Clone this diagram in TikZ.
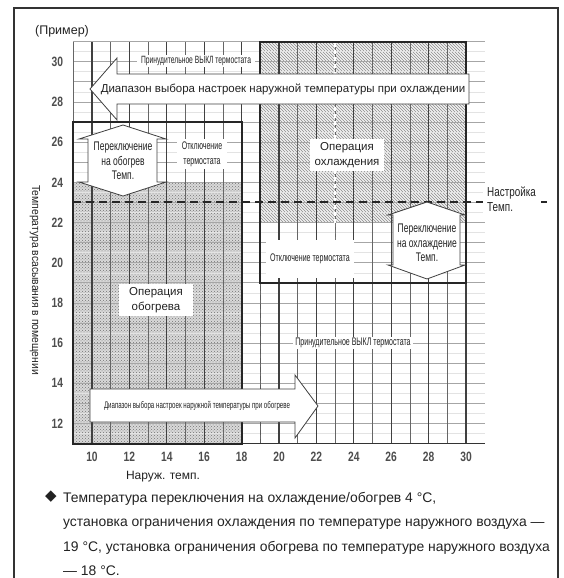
\documentclass[tikz,border=0pt]{standalone}
\usepackage{fontspec}
\setmainfont{Liberation Sans}
\newfontfamily\nfA[FakeStretch=0.76]{Liberation Sans}
\newfontfamily\nfS[FakeStretch=0.68]{Liberation Sans}
\newfontfamily\nfB[FakeStretch=0.64]{Liberation Sans}
\newfontfamily\nfC[FakeStretch=0.9]{Liberation Sans}
\newfontfamily\symfont{DejaVu Sans}
\usetikzlibrary{patterns}
\definecolor{ink}{HTML}{222222}
\definecolor{tickc}{HTML}{4d4d4d}
\begin{document}
\begin{tikzpicture}[x=1pt,y=-1pt,
  wbox/.style={fill=white, inner sep=2pt, align=center, text=ink},
  arrowshape/.style={fill=white, draw=black!75, line width=0.8pt, line join=miter},
  hline/.style={draw=gray!70, line width=0.8pt},
  hminor/.style={draw=gray!22, line width=0.5pt},
  vodd/.style={draw=black!60, line width=0.8pt},
  veven/.style={draw=black!75, line width=1.1pt},
  bord/.style={draw=black!85, line width=2pt},
  setline/.style={draw=black!85, line width=2pt, dash pattern=on 8pt off 5pt},
  ytick/.style={anchor=east, text=tickc, font=\nfA\bfseries\fontsize{13.5}{15}\selectfont, inner sep=0pt, xshift=-10pt},
  xtick/.style={text=tickc, font=\nfA\bfseries\fontsize{13.5}{15}\selectfont, inner sep=0pt, yshift=-13pt},
  fsw/.style={font=\nfS\fontsize{12.5}{14.5}\selectfont},
  foff/.style={font=\nfB\fontsize{11}{15}\selectfont},
  fop/.style={font=\fontsize{11.5}{15}\selectfont},
]
\useasboundingbox (0,0) rectangle (563,578);
\draw[line width=1.4pt, black!80] (14,590) -- (14,8) -- (558,8) -- (558,590);
\node[font=\fontsize{12.5}{15}\selectfont, text=ink, inner sep=0pt] (example) at (62,31) {(Пример)};

\begin{scope}[shift={(-95pt,-664.7pt)}, x=18.7pt, y=20.1pt]
  % fills
  \fill[gray!30] (9,11) rectangle (18,24);
  \fill[pattern=crosshatch dots, pattern color=black!55] (9,11) rectangle (18,24);
  \fill[gray!10] (19,22) rectangle (30,31);
  \fill[pattern=north west lines, pattern color=black!45] (19,22) rectangle (30,31);
  % grid
  \foreach \t in {11.5,12.5,...,30.5} \draw[hminor] (9,\t) -- (31,\t);
  \foreach \t in {11,...,31} \draw[hline] (9,\t) -- (31,\t);
  \foreach \t in {9,11,...,29} \draw[vodd] (\t,11) -- (\t,31);
  \foreach \t in {10,12,...,30} \draw[veven] (\t,11) -- (\t,31);
  % dashed verticals
  \draw[draw=black!65, line width=1.5pt, dash pattern=on 5pt off 4pt] (19,11) -- (19,19);
  \draw[draw=white, line width=1.3pt, dash pattern=on 4pt off 3pt] (23,22) -- (23,31);
  \draw[draw=black!55, line width=1.2pt, dash pattern=on 4pt off 3pt] (23,19) -- (23,22);
  % axis
  \draw[draw=black!80, line width=1.5pt] (9,11) -- (31,11);
  % region borders
  \draw[bord] (9,11) rectangle (18,27);
  \draw[bord] (19,19) rectangle (30,31);
  % setting line
  \coordinate (setL) at (9,23);
  \coordinate (setR) at (34.33,23);
  \draw[setline] (setL) -- (setR);
  % ticks
  \foreach \t in {12,14,...,30} \node[ytick] (y\t) at (9,\t) {\t};
  \foreach \t in {10,12,...,30} \node[xtick] (x\t) at (\t,11) {\t};
\end{scope}

% cooling range arrow (left)
\draw[arrowshape] (90,89) -- (117,58) -- (117,74) -- (469,74) -- (469,104) -- (117,104) -- (117,120) -- cycle;
\node[fop, text=ink, inner sep=0pt] (coolrange) at (283,89) {Диапазон выбора настроек наружной температуры при охлаждении};

% heating range arrow (right)
\draw[arrowshape] (90,389) -- (295,389) -- (295,375) -- (318,406) -- (295,438) -- (295,422) -- (90,422) -- cycle;
\node[font=\nfB\fontsize{9.6}{12}\selectfont, text=ink, inner sep=0pt] (heatrange) at (197,406) {Диапазон выбора настроек наружной температуры при обогреве};

% switch to heating (double arrow)
\draw[arrowshape] (123,125) -- (166,139) -- (157,139) -- (157,182) -- (166,182) -- (123,196) -- (79,182) -- (88,182) -- (88,139) -- (79,139) -- cycle;
\node[fsw, align=center, text=ink, inner sep=0pt] (swheat) at (123,161) {Переключение\\на обогрев\\Темп.};

% switch to cooling (double arrow)
\draw[arrowshape] (427,202) -- (465,215) -- (460,215) -- (460,265) -- (465,265) -- (427,279) -- (388,265) -- (393,265) -- (393,215) -- (388,215) -- cycle;
\node[fsw, align=center, text=ink, inner sep=0pt] (swcool) at (427,243) {Переключение\\на охлаждение\\Темп.};

% labels
\node[wbox, foff, font=\nfB\fontsize{10.5}{12}\selectfont, inner xsep=4pt, inner ysep=1.5pt] (forcetop) at (196,61) {Принудительное ВЫКЛ термостата};
\node[wbox, foff, font=\nfB\fontsize{11}{12}\selectfont, inner xsep=2pt, inner ysep=1.5pt] (forcelow) at (353,343) {Принудительное ВЫКЛ термостата};
\node[wbox, foff, inner xsep=5pt, inner ysep=3pt] (offheat) at (202,154) {Отключение\\термостата};
\node[wbox, foff, minimum height=38pt, inner xsep=4pt] (offcool) at (310,259) {Отключение термостата};
\node[wbox, fop, inner xsep=5pt, inner ysep=3pt] (coolop) at (347,155) {Операция\\охлаждения};
\node[wbox, fop, inner xsep=10pt, inner ysep=3pt] (heatop) at (156,300) {Операция\\обогрева};
\node[wbox, font=\nfA\fontsize{13}{15}\selectfont, align=left, anchor=west, inner xsep=4pt, inner ysep=3pt] (setT) at (483,199) {Настройка\\Темп.};

% axis titles
\node[font=\nfC\fontsize{11.5}{14}\selectfont, text=ink, rotate=-90, inner sep=0pt] (ytitle) at (35,280) {Температура всасывания в помещении};
\node[wbox, font=\fontsize{12}{14}\selectfont] (xtitle) at (163,477) {Наруж. темп.};

% note
\node[font=\symfont\fontsize{15}{16}\selectfont, text=ink, inner sep=0pt] (bullet) at (51,497) {◆};
\begin{scope}[every node/.style={anchor=base west, inner sep=0pt, text=ink, font=\fontsize{13.9}{16}\selectfont}]
\node (n1) at (63,502) {Температура переключения на охлаждение/обогрев 4 °C,};
\node (n2) at (63,526.5) {установка ограничения охлаждения по температуре наружного воздуха —};
\node (n3) at (63,551) {19 °C, установка ограничения обогрева по температуре наружного воздуха};
\node (n4) at (63,575) {— 18 °C.};
\end{scope}
\end{tikzpicture}
\end{document}
